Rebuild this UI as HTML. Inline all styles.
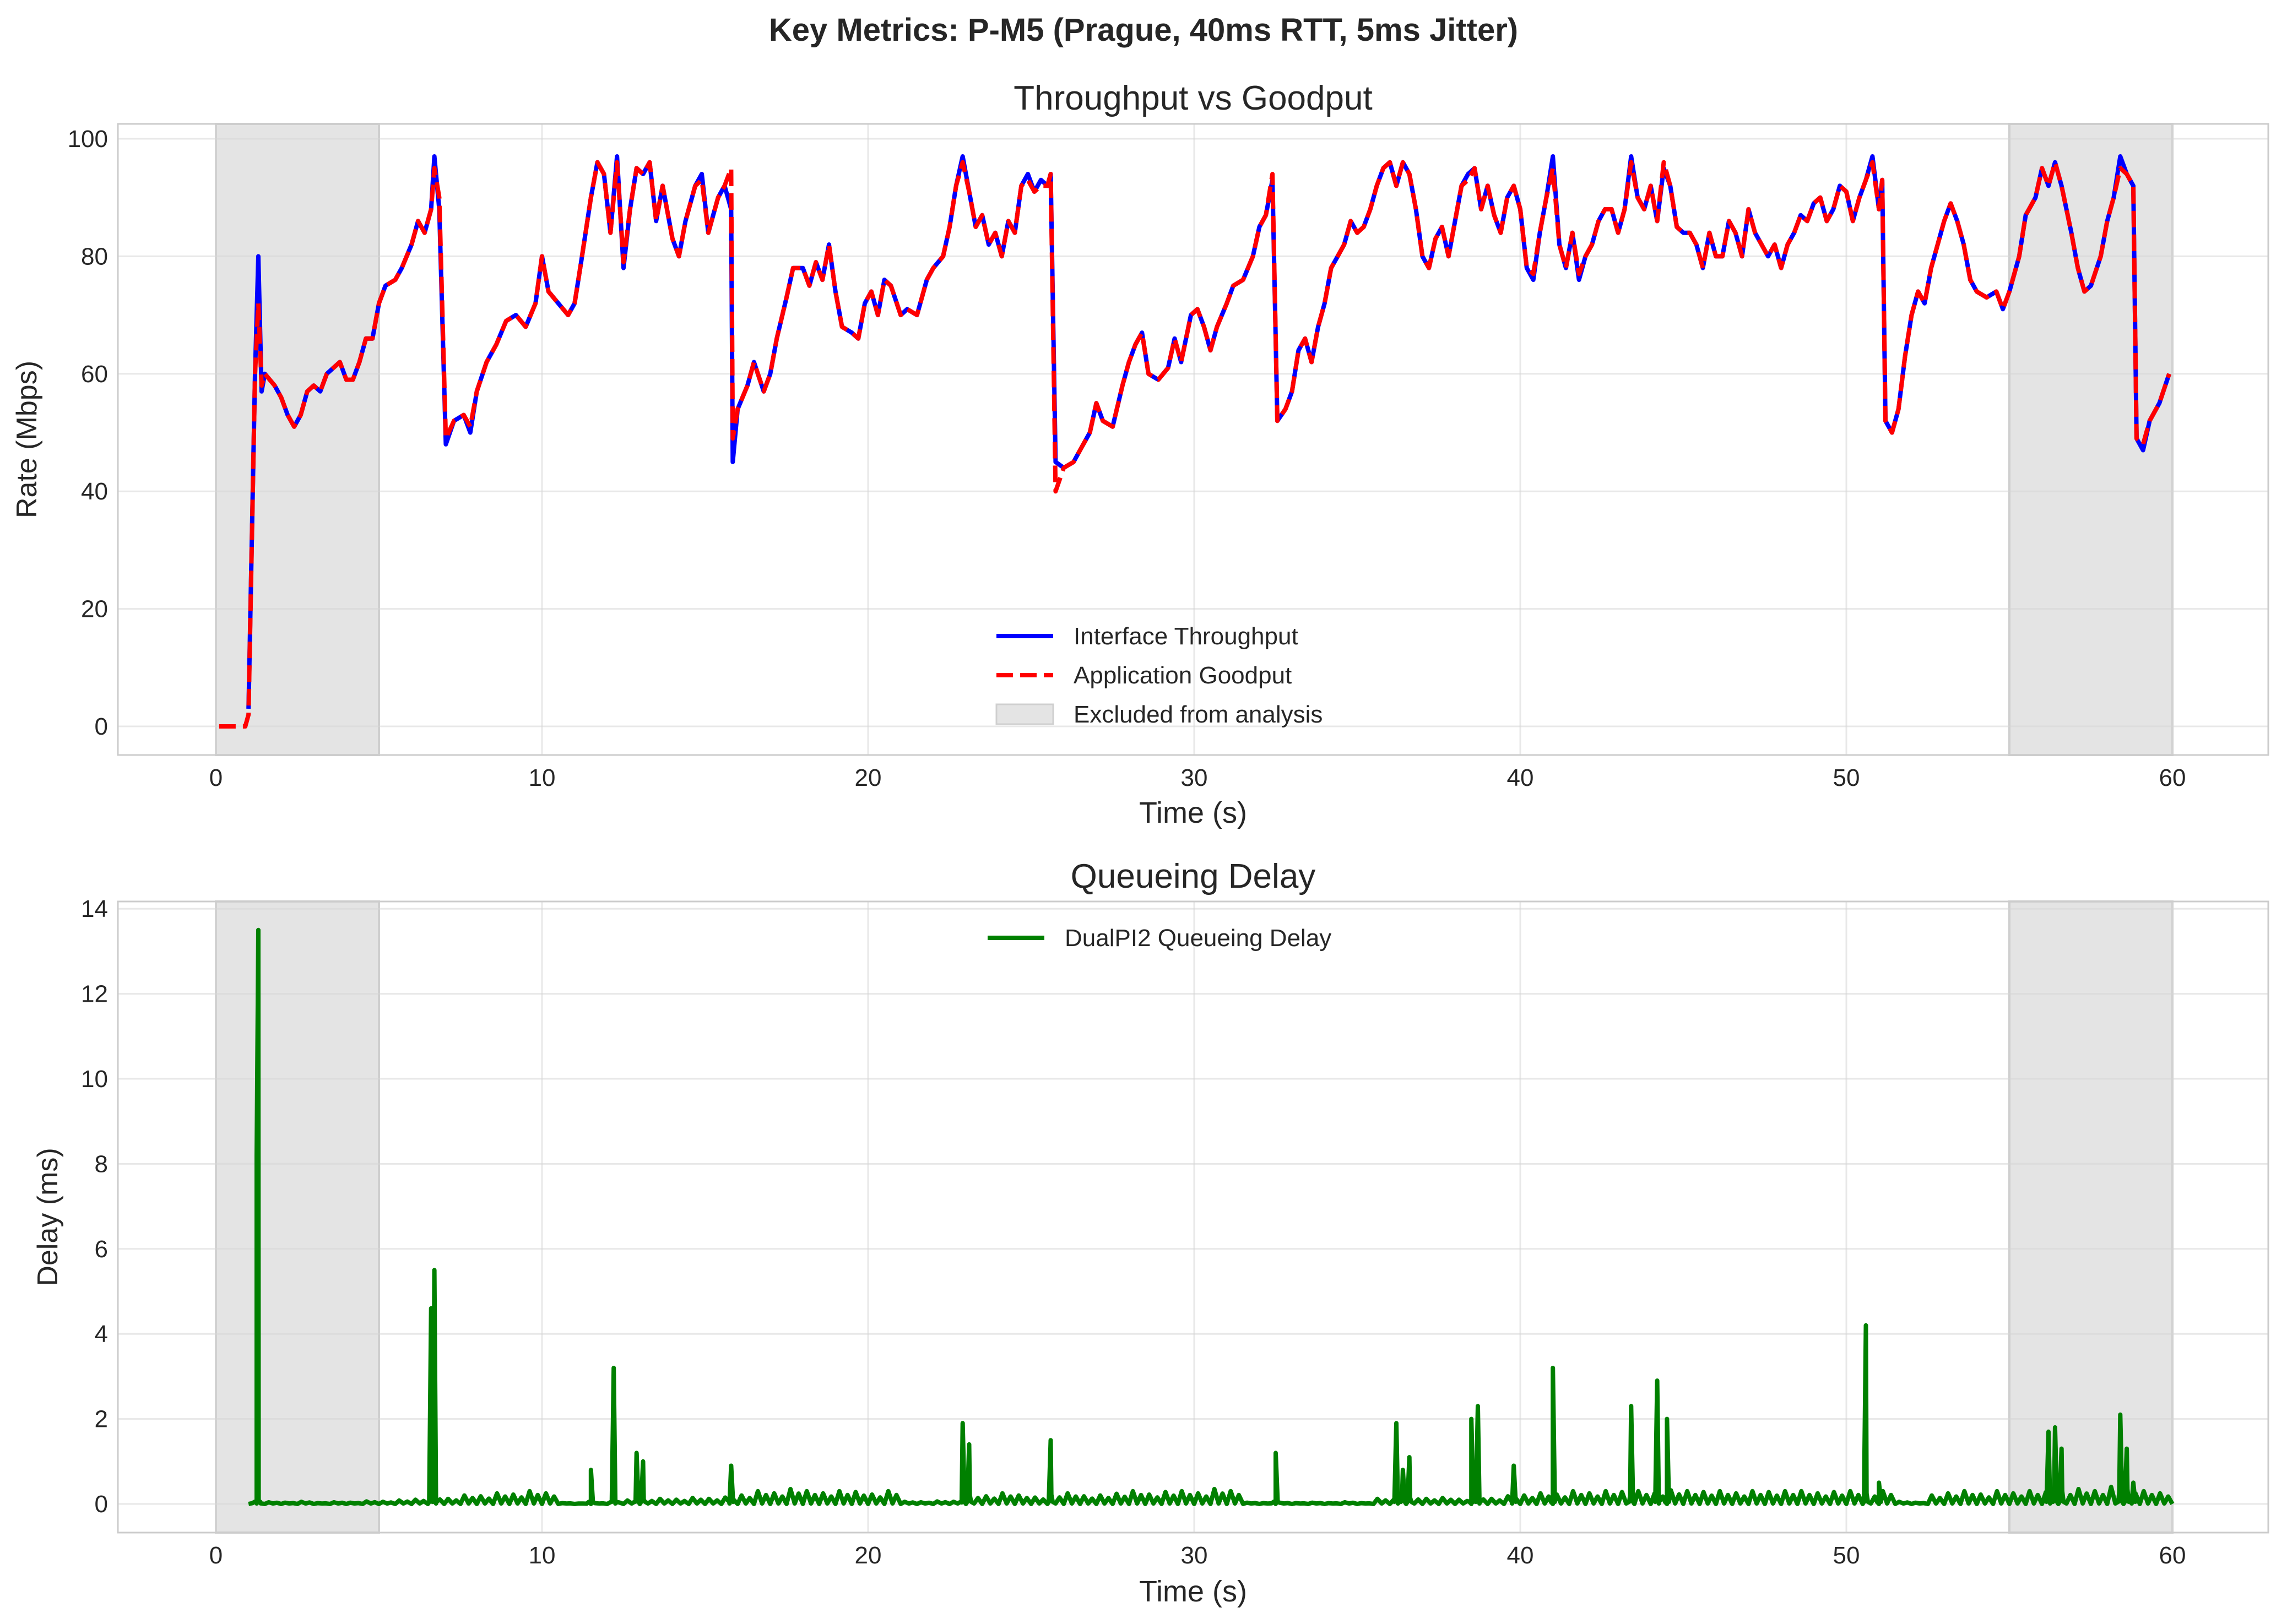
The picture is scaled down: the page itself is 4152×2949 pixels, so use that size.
<!DOCTYPE html>
<html><head><meta charset="utf-8">
<style>
html,body{margin:0;padding:0;background:#fff;}
svg{display:block;font-family:"Liberation Sans","DejaVu Sans",sans-serif;}
</style></head>
<body>
<svg id="chart" width="4152" height="2949" viewBox="0 0 4152 2949" xmlns="http://www.w3.org/2000/svg">
<rect width="4152" height="2949" fill="#fff"/>
<text x="2076" y="74" text-anchor="middle" font-size="58" font-weight="bold" fill="#262626">Key Metrics: P-M5 (Prague, 40ms RTT, 5ms Jitter)</text>
<g id="top"></g>
<g id="bot"></g>
</svg>
<script>
// ---------- data ----------
const xTicks = [0,10,20,30,40,50,60];
const rateTicks = [0,20,40,60,80,100];
const delayTicks = [0,2,4,6,8,10,12,14];
const excluded = [[0,5],[55,60]];

const tpT = [1.0,1.2,1.3,1.4,1.5,1.8,2.0,2.2,2.4,2.6,2.8,3.0,3.2,3.4,3.6,3.8,4.0,4.2,4.4,4.6,4.8,5.0,5.2,5.5,5.7,6.0,6.2,6.4,6.6,6.7,6.85,7.05,7.3,7.6,7.8,8.0,8.3,8.6,8.9,9.2,9.5,9.8,10.0,10.2,10.5,10.8,11.0,11.2,11.5,11.7,11.9,12.1,12.3,12.5,12.7,12.9,13.1,13.3,13.5,13.7,14.0,14.2,14.4,14.7,14.9,15.1,15.4,15.6,15.8,15.85,16.0,16.3,16.5,16.8,17.0,17.2,17.5,17.7,18.0,18.2,18.4,18.6,18.8,19.0,19.2,19.5,19.7,19.9,20.1,20.3,20.5,20.7,21.0,21.2,21.5,21.8,22.0,22.3,22.5,22.7,22.9,23.1,23.3,23.5,23.7,23.9,24.1,24.3,24.5,24.7,24.9,25.1,25.3,25.5,25.6,25.75,26.0,26.3,26.5,26.8,27.0,27.2,27.5,27.8,28.0,28.2,28.4,28.6,28.9,29.2,29.4,29.6,29.9,30.1,30.3,30.5,30.7,31.0,31.2,31.5,31.8,32.0,32.2,32.4,32.55,32.8,33.0,33.2,33.4,33.6,33.8,34.0,34.2,34.4,34.6,34.8,35.0,35.2,35.4,35.6,35.8,36.0,36.2,36.4,36.6,36.8,37.0,37.2,37.4,37.6,37.8,38.0,38.2,38.4,38.6,38.8,39.0,39.2,39.4,39.6,39.8,40.0,40.2,40.4,40.6,40.8,41.0,41.2,41.4,41.6,41.8,42.0,42.2,42.4,42.6,42.8,43.0,43.2,43.4,43.6,43.8,44.0,44.2,44.4,44.6,44.8,45.0,45.2,45.4,45.6,45.8,46.0,46.2,46.4,46.6,46.8,47.0,47.2,47.4,47.6,47.8,48.0,48.2,48.4,48.6,48.8,49.0,49.2,49.4,49.6,49.8,50.0,50.2,50.4,50.6,50.8,51.0,51.1,51.2,51.4,51.6,51.8,52.0,52.2,52.4,52.6,52.8,53.0,53.2,53.4,53.6,53.8,54.0,54.3,54.6,54.8,55.0,55.3,55.5,55.8,56.0,56.2,56.4,56.6,56.9,57.1,57.3,57.5,57.8,58.0,58.2,58.4,58.6,58.8,58.9,59.1,59.3,59.6,59.9];
const tpV = [3,60,80,57,60,58,56,53,51,53,57,58,57,60,61,62,59,59,62,66,66,72,75,76,78,82,86,84,88,97,88,48,52,53,50,57,62,65,69,70,68,72,80,74,72,70,72,79,90,96,94,84,97,78,88,95,94,96,86,92,83,80,86,92,94,84,90,92,88,45,54,58,62,57,60,66,73,78,78,75,79,76,82,74,68,67,66,72,74,70,76,75,70,71,70,76,78,80,85,92,97,91,85,87,82,84,80,86,84,92,94,91,93,92,94,45,44,45,47,50,55,52,51,58,62,65,67,60,59,61,66,62,70,71,68,64,68,72,75,76,80,85,87,93,52,54,57,64,66,62,68,72,78,80,82,86,84,85,88,92,95,96,92,96,94,88,80,78,83,85,80,86,92,94,95,88,92,87,84,90,92,88,78,76,84,90,97,82,78,84,76,80,82,86,88,88,84,88,97,90,88,92,86,95,92,85,84,84,82,78,84,80,80,86,84,80,88,84,82,80,82,78,82,84,87,86,89,90,86,88,92,91,86,90,93,97,88,93,52,50,54,63,70,74,72,78,82,86,89,86,82,76,74,73,74,71,74,80,87,90,95,92,96,92,84,78,74,75,80,86,90,97,94,92,49,47,52,55,60];

const gpT = [0.1,0.9,1.0,1.2,1.3,1.4,1.5,1.8,2.0,2.2,2.4,2.6,2.8,3.0,3.2,3.4,3.6,3.8,4.0,4.2,4.4,4.6,4.8,5.0,5.2,5.5,5.7,6.0,6.2,6.4,6.6,6.7,6.85,7.05,7.3,7.6,7.8,8.0,8.3,8.6,8.9,9.2,9.5,9.8,10.0,10.2,10.5,10.8,11.0,11.2,11.5,11.7,11.9,12.1,12.3,12.5,12.7,12.9,13.1,13.3,13.5,13.7,14.0,14.2,14.4,14.7,14.9,15.1,15.4,15.6,15.8,15.85,16.0,16.3,16.5,16.8,17.0,17.2,17.5,17.7,18.0,18.2,18.4,18.6,18.8,19.0,19.2,19.5,19.7,19.9,20.1,20.3,20.5,20.7,21.0,21.2,21.5,21.8,22.0,22.3,22.5,22.7,22.9,23.1,23.3,23.5,23.7,23.9,24.1,24.3,24.5,24.7,24.9,25.1,25.3,25.5,25.6,25.75,26.0,26.3,26.5,26.8,27.0,27.2,27.5,27.8,28.0,28.2,28.4,28.6,28.9,29.2,29.4,29.6,29.9,30.1,30.3,30.5,30.7,31.0,31.2,31.5,31.8,32.0,32.2,32.4,32.55,32.8,33.0,33.2,33.4,33.6,33.8,34.0,34.2,34.4,34.6,34.8,35.0,35.2,35.4,35.6,35.8,36.0,36.2,36.4,36.6,36.8,37.0,37.2,37.4,37.6,37.8,38.0,38.2,38.4,38.6,38.8,39.0,39.2,39.4,39.6,39.8,40.0,40.2,40.4,40.6,40.8,41.0,41.2,41.4,41.6,41.8,42.0,42.2,42.4,42.6,42.8,43.0,43.2,43.4,43.6,43.8,44.0,44.2,44.4,44.6,44.8,45.0,45.2,45.4,45.6,45.8,46.0,46.2,46.4,46.6,46.8,47.0,47.2,47.4,47.6,47.8,48.0,48.2,48.4,48.6,48.8,49.0,49.2,49.4,49.6,49.8,50.0,50.2,50.4,50.6,50.8,51.0,51.1,51.2,51.4,51.6,51.8,52.0,52.2,52.4,52.6,52.8,53.0,53.2,53.4,53.6,53.8,54.0,54.3,54.6,54.8,55.0,55.3,55.5,55.8,56.0,56.2,56.4,56.6,56.9,57.1,57.3,57.5,57.8,58.0,58.2,58.4,58.6,58.8,58.9,59.1,59.3,59.6,59.9];
const gpV = [0,0,2,60,72,58,60,58,56,53,51,53,57,58,57,60,61,62,59,59,62,66,66,72,75,76,78,82,86,84,88,95,90,49,52,53,51,57,62,65,69,70,68,72,80,74,72,70,72,79,90,96,94,84,96,79,88,95,94,96,86,92,83,80,86,92,93,84,90,92,95,49,54,58,62,57,60,66,73,78,78,75,79,76,82,74,68,67,66,72,74,70,76,75,70,71,70,76,78,80,85,92,96,91,85,87,82,84,80,86,84,92,93,91,92,92,94,40,44,45,47,50,55,52,51,58,62,65,67,60,59,61,66,62,70,71,68,64,68,72,75,76,80,85,87,94,52,54,57,64,66,62,68,72,78,80,82,86,84,85,88,92,95,96,92,96,94,88,80,78,83,85,80,86,92,93,95,88,92,87,84,90,92,88,78,77,84,90,95,82,78,84,77,80,82,86,88,88,84,88,96,90,88,92,86,96,92,85,84,84,82,78,84,80,80,86,84,80,88,84,82,80,82,78,82,84,87,86,89,90,86,88,92,91,86,90,93,96,88,93,52,50,54,63,70,74,72,78,82,86,89,86,82,76,74,73,74,71,74,80,87,90,95,92,96,92,84,78,74,75,80,86,90,95,94,92,49,48,52,55,60];

// queueing delay baseline (one value every 0.5 s from 1.0 s) and spikes
const baseT0 = 1.0, baseStep = 0.5;
const baseV = [0.02,0.04,0.03,0.05,0.02,0.04,0.03,0.06,0.05,0.08,0.1,0.15,0.12,0.2,0.18,0.25,0.22,0.3,0.25,0.02,0.01,0.02,0.05,0.08,0.1,0.12,0.1,0.14,0.12,0.15,0.2,0.3,0.25,0.35,0.3,0.25,0.3,0.28,0.22,0.3,0.05,0.04,0.06,0.05,0.2,0.18,0.25,0.2,0.15,0.22,0.25,0.18,0.2,0.24,0.3,0.22,0.28,0.3,0.25,0.35,0.3,0.03,0.02,0.03,0.02,0.03,0.02,0.04,0.02,0.12,0.1,0.15,0.12,0.14,0.1,0.15,0.12,0.18,0.2,0.25,0.22,0.3,0.25,0.3,0.28,0.3,0.25,0.32,0.3,0.28,0.3,0.25,0.3,0.28,0.3,0.3,0.25,0.28,0.3,0.25,0.3,0.05,0.03,0.2,0.25,0.3,0.22,0.3,0.25,0.3,0.28,0.3,0.35,0.3,0.4,0.35,0.3,0.25,0.1];
const spikeT = [1.25,1.3,6.6,6.7,11.5,12.2,12.9,13.1,15.8,22.9,23.1,25.6,32.5,36.2,36.4,36.6,38.5,38.7,39.8,41.0,43.4,44.2,44.5,50.6,51.0,56.2,56.4,56.6,58.4,58.6,58.8];
const spikeV = [8.2,13.5,4.6,5.5,0.8,3.2,1.2,1.0,0.9,1.9,1.4,1.5,1.2,1.9,0.8,1.1,2.0,2.3,0.9,3.2,2.3,2.9,2.0,4.2,0.5,1.7,1.8,1.3,2.1,1.3,0.5];

// ---------- layout ----------
const NS = "http://www.w3.org/2000/svg";
const L = 214, R = 4118;
const xS = t => 392 + t * 59.2;
const topP = {g: document.getElementById('top'), top: 225, bot: 1371, y: v => 1319 - v * 10.67};
const botP = {g: document.getElementById('bot'), top: 1637, bot: 2783, y: v => 2731 - v * 77.2};

function mk(parent, tag, attrs){
  const e = document.createElementNS(NS, tag);
  for (const k in attrs) e.setAttribute(k, attrs[k]);
  parent.appendChild(e);
  return e;
}

function axes(P, ticks, yLabel, yLabelX, title, titleY, xLabelY){
  const g = P.g;
  for (const s of excluded){
    const r = mk(g, 'rect', {x: xS(s[0]), y: P.top, width: xS(s[1]) - xS(s[0]), height: P.bot - P.top, fill: '#e4e4e4', stroke: '#cfcfcf', 'stroke-width': 4});
    
    
  }
  for (const t of xTicks){
    const ln = mk(g, 'line', {x1: xS(t), x2: xS(t), y1: P.top, y2: P.bot, stroke: '#d6d6d6', 'stroke-opacity': 0.55, 'stroke-width': 3});
    
    
    const tx = mk(g, 'text', {x: xS(t), y: P.bot + 56, 'text-anchor': 'middle', 'font-size': 44, fill: '#262626'});
    tx.textContent = t;
    
    
  }
  for (const v of ticks){
    const ln = mk(g, 'line', {x1: L, x2: R, y1: P.y(v), y2: P.y(v), stroke: '#d6d6d6', 'stroke-opacity': 0.55, 'stroke-width': 3});
    
    
    const tx = mk(g, 'text', {x: L - 18, y: P.y(v) + 15, 'text-anchor': 'end', 'font-size': 44, fill: '#262626'});
    tx.textContent = v;
    
    
  }
  const fr = mk(g, 'rect', {x: L, y: P.top, width: R - L, height: P.bot - P.top, fill: 'none', stroke: '#cccccc', 'stroke-width': 3});
  
  
  const yl = mk(g, 'text', {x: yLabelX, y: (P.top + P.bot) / 2, 'text-anchor': 'middle', 'font-size': 52, fill: '#262626', transform: `rotate(-90 ${yLabelX} ${(P.top + P.bot) / 2})`});
  yl.textContent = yLabel;
  
  
  const xl = mk(g, 'text', {x: (L + R) / 2, y: xLabelY, 'text-anchor': 'middle', 'font-size': 54, fill: '#262626'});
  xl.textContent = 'Time (s)';
  
  
  const ti = mk(g, 'text', {x: (L + R) / 2, y: titleY, 'text-anchor': 'middle', 'font-size': 62, fill: '#262626'});
  ti.textContent = title;
  
  
}

function path(P, ts, vs, attrs, name){
  const d = ts.map((t, i) => (i ? 'L' : 'M') + xS(t).toFixed(1) + ',' + P.y(vs[i]).toFixed(1)).join('');
  const p = mk(P.g, 'path', Object.assign({d: d, fill: 'none', 'stroke-linejoin': 'round'}, attrs));
  
  
  return p;
}

// ---------- top panel ----------
axes(topP, rateTicks, 'Rate (Mbps)', 66, 'Throughput vs Goodput', 199, 1494);
path(topP, tpT, tpV, {stroke: '#0000ff', 'stroke-width': 8}, 'throughput-line');
path(topP, gpT, gpV, {stroke: '#ff0000', 'stroke-width': 8, 'stroke-dasharray': '30 13'}, 'goodput-line');

// legend (top)
const lg = mk(topP.g, 'g', {});


const legItems = [['Interface Throughput', 1155, 'line'], ['Application Goodput', 1226, 'dash'], ['Excluded from analysis', 1297, 'patch']];
for (const it of legItems){
  let sym;
  if (it[2] === 'line') sym = mk(lg, 'line', {x1: 1809, x2: 1912, y1: it[1], y2: it[1], stroke: '#0000ff', 'stroke-width': 8});
  else if (it[2] === 'dash') sym = mk(lg, 'line', {x1: 1809, x2: 1912, y1: it[1], y2: it[1], stroke: '#ff0000', 'stroke-width': 8, 'stroke-dasharray': '30 13'});
  else sym = mk(lg, 'rect', {x: 1809, y: it[1] - 18, width: 103, height: 36, fill: '#e4e4e4', stroke: '#cfcfcf', 'stroke-width': 3});
  
  
  const tx = mk(lg, 'text', {x: 1949, y: it[1] + 15, 'font-size': 44, fill: '#262626'});
  tx.textContent = it[0];
  
  
}

// ---------- bottom panel ----------
axes(botP, delayTicks, 'Delay (ms)', 104, 'Queueing Delay', 1612, 2908);
let pts = [];
baseV.forEach((v, i) => { const t = baseT0 + i * baseStep; pts.push([t, 0]); pts.push([t + 0.12, v]); pts.push([t + 0.25, 0.01]); pts.push([t + 0.37, v * 0.7]); });
spikeT.forEach((t, i) => { pts.push([t - 0.06, 0.05]); pts.push([t, spikeV[i]]); pts.push([t + 0.06, 0.05]); });
pts = pts.filter(p => p[0] <= 60);
pts.sort((a, b) => a[0] - b[0]);
path(botP, pts.map(p => p[0]), pts.map(p => p[1]), {stroke: '#008000', 'stroke-width': 8}, 'delay-line');

const lg2 = mk(botP.g, 'g', {});


const s2 = mk(lg2, 'line', {x1: 1793, x2: 1896, y1: 1703, y2: 1703, stroke: '#008000', 'stroke-width': 8});


const t2 = mk(lg2, 'text', {x: 1933, y: 1718, 'font-size': 44, fill: '#262626'});
t2.textContent = 'DualPI2 Queueing Delay';


</script>
</body></html>
